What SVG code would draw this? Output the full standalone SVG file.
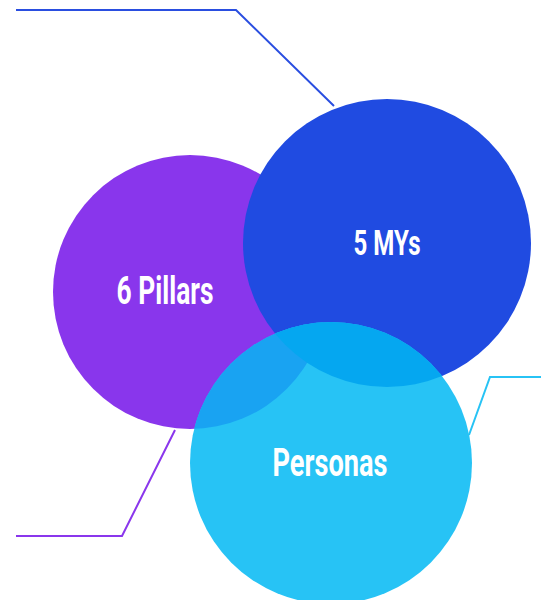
<svg xmlns="http://www.w3.org/2000/svg" width="541" height="600" viewBox="0 0 541 600">
  <style>
    .lbl { font-family: Roboto, "Liberation Sans", sans-serif; font-weight: 700; fill: #ffffff; text-anchor: middle; }
    .conn { fill: none; stroke-width: 2; stroke-linejoin: miter; }
  </style>
  <defs>
    <clipPath id="clipPillars"><circle cx="190" cy="292" r="137"/></clipPath>
    <clipPath id="clipMys"><circle cx="387" cy="243" r="144"/></clipPath>
  </defs>
  <rect width="541" height="600" fill="#ffffff"/>

  <!-- connectors -->
  <g id="connectors">
    <polyline class="conn" stroke="#2a4ee0" points="16,10 236,10 334,106"/>
    <polyline class="conn" stroke="#8a36ec" points="16,536 122,536 175,430"/>
    <polyline class="conn" stroke="#27c3f5" points="541,377 490,377 469,435"/>
  </g>

  <g id="pillars">
    <circle cx="190" cy="292" r="137" fill="#8936ec"/>
    <text class="lbl" x="165" y="304" font-size="38" textLength="97" lengthAdjust="spacingAndGlyphs">6 Pillars</text>
  </g>

  <g id="mys">
    <circle cx="387" cy="243" r="144" fill="#204be1"/>
    <text class="lbl" x="387" y="255" font-size="35" textLength="67" lengthAdjust="spacingAndGlyphs">5 MYs</text>
  </g>

  <g id="personas">
    <circle cx="331" cy="463" r="141" fill="#27c3f5"/>
    <!-- overlap lenses -->
    <circle cx="331" cy="463" r="141" fill="#19a3f2" clip-path="url(#clipPillars)"/>
    <circle cx="331" cy="463" r="141" fill="#05a7f0" clip-path="url(#clipMys)"/>
    <text class="lbl" x="330" y="476" font-size="39" textLength="115" lengthAdjust="spacingAndGlyphs">Personas</text>
  </g>
</svg>
